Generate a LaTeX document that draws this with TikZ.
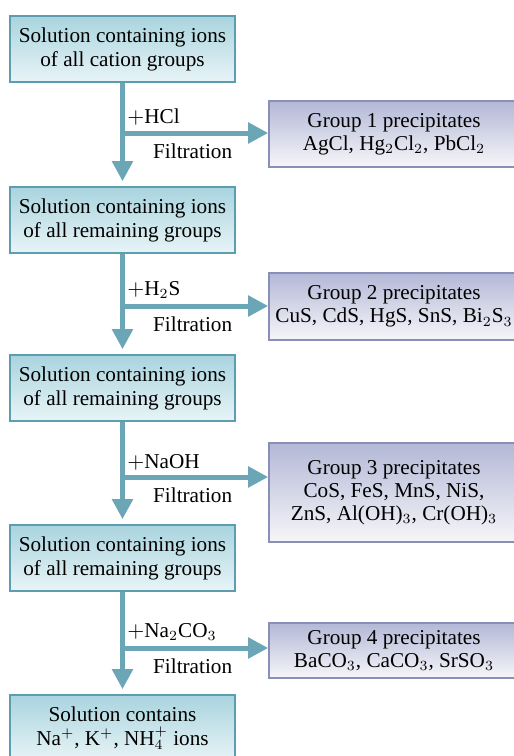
\documentclass[tikz,border=0pt]{standalone}
\usepackage{fontspec}
\setmainfont{Liberation Serif}
\usetikzlibrary{arrows.meta}

\definecolor{soltop}{HTML}{A9D4DE}
\definecolor{solbot}{HTML}{E8F4F7}
\definecolor{solline}{HTML}{5C9EB0}
\definecolor{pptop}{HTML}{B3B8D6}
\definecolor{ppbot}{HTML}{F6F6F9}
\definecolor{ppline}{HTML}{8A8FB8}
\definecolor{flowcol}{HTML}{6AA6B6}

\begin{document}
\begin{tikzpicture}[x=0.5pt,y=-0.5pt,
    solbox/.style={draw=solline, line width=0.8pt, top color=soltop, bottom color=solbot,
        minimum width=112.5pt, minimum height=33pt, inner sep=0pt, align=center,
        font=\fontsize{10.6}{12}\selectfont},
    ppbox/.style={draw=ppline, line width=0.8pt, top color=pptop, bottom color=ppbot,
        minimum width=125pt, inner sep=0pt, align=center,
        font=\fontsize{10.6}{11.5}\selectfont},
    flow/.style={draw=flowcol, line width=2.5pt, -{Triangle[length=10pt,width=10pt]}},
    reagent/.style={anchor=west, inner sep=0pt, font=\fontsize{10.6}{12}\selectfont},
    filt/.style={anchor=east, inner sep=0pt, font=\fontsize{10.6}{12}\selectfont}]
    \useasboundingbox (0,0) rectangle (514,756);

    % Solutions down the left side
    \node[solbox] (sol1) at (122.5,49) {Solution containing ions\\of all cation groups};
    \node[solbox] (sol2) at (122.5,220) {Solution containing ions\\of all remaining groups};
    \node[solbox] (sol3) at (122.5,388) {Solution containing ions\\of all remaining groups};
    \node[solbox] (sol4) at (122.5,558) {Solution containing ions\\of all remaining groups};
    \node[solbox] (sol5) at (122.5,728) {Solution contains\\Na$^+$, K$^+$, NH$_4^+$ ions};

    % Precipitates on the right
    \node[ppbox, minimum height=33pt] (grp1) at (394,134)
        {Group 1 precipitates\\AgCl, Hg$_2$Cl$_2$, PbCl$_2$};
    \node[ppbox, minimum height=33.5pt] (grp2) at (394,306.5)
        {Group 2 precipitates\\CuS, CdS, HgS, SnS, Bi$_2$S$_3$};
    \node[ppbox, minimum height=49.5pt] (grp3) at (394,492.5)
        {Group 3 precipitates\\CoS, FeS, MnS, NiS,\\ZnS, Al(OH)$_3$, Cr(OH)$_3$};
    \node[ppbox, minimum height=27.5pt] (grp4) at (394,650.5)
        {Group 4 precipitates\\BaCO$_3$, CaCO$_3$, SrSO$_3$};

    % Branch points on the main line
    \coordinate (j1) at (122.5,133);
    \coordinate (j2) at (122.5,306);
    \coordinate (j3) at (122.5,477);
    \coordinate (j4) at (122.5,648);

    % Main line and side arrows
    \foreach \a/\b in {1/2,2/3,3/4,4/5}
        \draw[flow, shorten >=2.5pt] (sol\a.south) -- (sol\b.north);
    \foreach \j/\g in {j1/grp1,j2/grp2,j3/grp3,j4/grp4}
        \draw[flow] (\j) -- (\j -| \g.west);

    % Reagents and filtration steps
    \node[reagent] (add1) at (127,117) {$+$HCl};
    \node[reagent] (add2) at (127,290) {$+$H$_2$S};
    \node[reagent] (add3) at (127,462) {$+$NaOH};
    \node[reagent] (add4) at (127,632) {$+$Na$_2$CO$_3$};
    \foreach \j in {1,...,4}
        \node[filt] (filt\j) at ([xshift=55pt,yshift=-9pt]j\j) {Filtration};
\end{tikzpicture}
\end{document}
